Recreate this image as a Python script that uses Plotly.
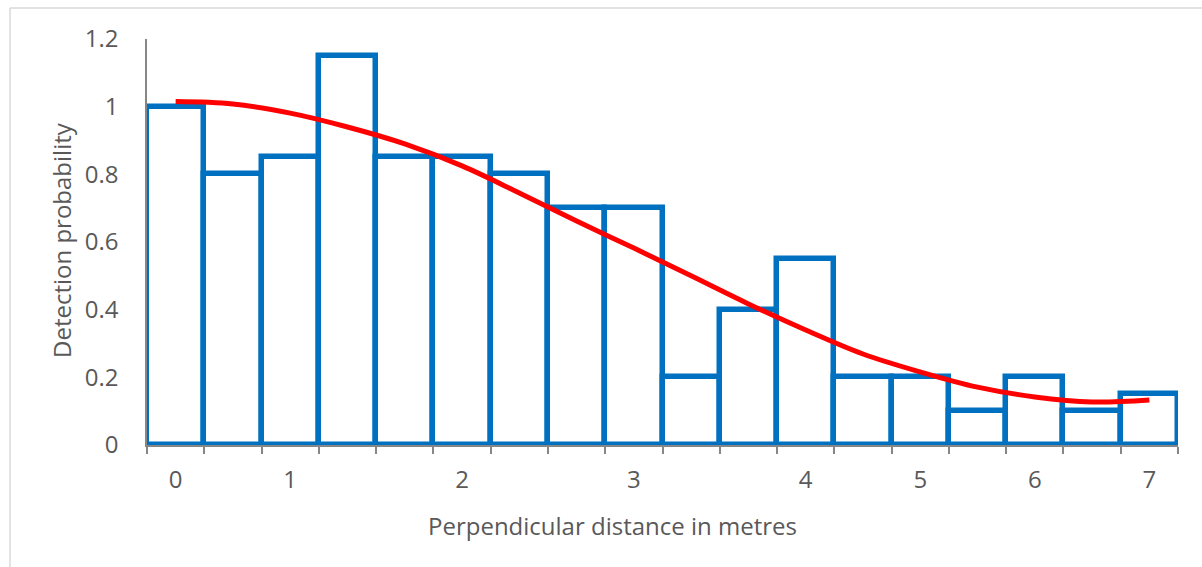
import plotly.graph_objects as go

# Distance bins (index along the axis) and their labels
bins = list(range(18))
bin_labels = ["0", "", "1", "", "", "2", "", "", "3", "", "", "4", "", "5", "", "6", "", "7"]

# Observed detection probability per bin
observed = [1.0, 0.8, 0.85, 1.15, 0.85, 0.85, 0.8, 0.7, 0.7,
            0.2, 0.4, 0.55, 0.2, 0.2, 0.1, 0.2, 0.1, 0.15]

# Fitted detection function evaluated at bin centres
fitted = [1.015, 1.008, 0.981, 0.940, 0.890, 0.825, 0.745, 0.662, 0.582,
          0.500, 0.417, 0.340, 0.269, 0.216, 0.171, 0.142, 0.127, 0.133]

y_ticks = [0, 0.2, 0.4, 0.6, 0.8, 1, 1.2]

TEXT = "#595959"
AXIS = "#868686"
FONT = "Open Sans"

W, H = 1202, 567
ML, MR, MT, MB = 147, 24, 39, 122
PW, PH = W - ML - MR, H - MT - MB


def px_x(px):
    return (px - ML) / PW


def px_y(py):
    return (H - MB - py) / PH


fig = go.Figure()

fig.add_trace(go.Bar(
    x=bins, y=observed, width=1,
    marker=dict(color="white", line=dict(color="#0070C0", width=5.5)),
    showlegend=False,
))

fig.add_trace(go.Scatter(
    x=bins, y=fitted, mode="lines",
    line=dict(color="#FF0000", width=5, shape="spline", smoothing=1.0),
    showlegend=False,
))

fig.update_layout(
    width=W, height=H,
    margin=dict(l=ML, r=MR, t=MT, b=MB, pad=0),
    paper_bgcolor="white", plot_bgcolor="white",
    bargap=0,
    font=dict(family=FONT, color=TEXT, size=24),
    xaxis=dict(
        range=[-0.5, 17.5],
        tickmode="array", tickvals=bins, ticktext=bin_labels,
        ticks="", showgrid=False, zeroline=False,
        showline=True, linecolor=AXIS, linewidth=2,
        tickfont=dict(family=FONT, color=TEXT, size=24),
        ticklabelstandoff=12,
        minor=dict(tickmode="array", tickvals=[b - 0.5 for b in bins] + [17.5],
                   ticks="outside", ticklen=7, tickcolor=AXIS, tickwidth=1.5,
                   showgrid=False),
    ),
    yaxis=dict(
        range=[0, 1.2],
        tickmode="array", tickvals=y_ticks,
        ticks="", showgrid=False, zeroline=False,
        showline=True, linecolor=AXIS, linewidth=1.5,
        tickfont=dict(family=FONT, color=TEXT, size=24),
        ticklabelstandoff=22,
    ),
    annotations=[
        dict(text="Perpendicular distance in metres", xref="paper", yref="paper",
             x=px_x(612), y=px_y(525), xanchor="center", yanchor="middle",
             showarrow=False, font=dict(family=FONT, color=TEXT, size=24)),
        dict(text="Detection probability", xref="paper", yref="paper",
             x=px_x(61), y=px_y(240), xanchor="center", yanchor="middle",
             textangle=-90, showarrow=False,
             font=dict(family=FONT, color=TEXT, size=24)),
    ],
    shapes=[
        dict(type="line", xref="paper", yref="paper",
             x0=px_x(10), x1=px_x(10), y0=px_y(8), y1=px_y(H + 5),
             line=dict(color="#D9D9D9", width=1.5)),
        dict(type="line", xref="paper", yref="paper",
             x0=px_x(10), x1=px_x(W + 5), y0=px_y(8), y1=px_y(8),
             line=dict(color="#D9D9D9", width=1.5)),
    ],
)

fig.write_html("out.html")
